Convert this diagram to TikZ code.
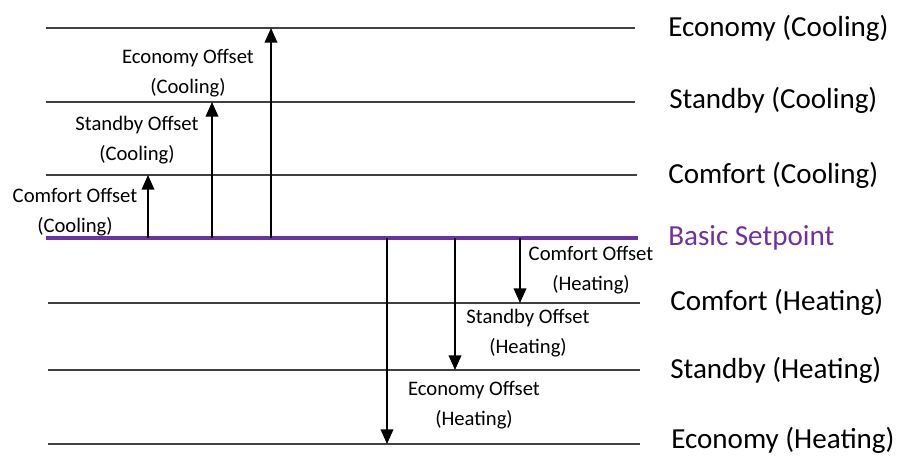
\documentclass[tikz,border=0pt]{standalone}
\usepackage{fontspec}
\setmainfont{Carlito}
\usetikzlibrary{arrows.meta}
\definecolor{setpt}{rgb}{0.44,0.19,0.63}
\tikzset{
  level/.style={draw=black!75,line width=1.1pt},
  offset/.style={draw=black,line width=1.2pt,-{Triangle[width=9.5pt,length=11pt]}},
  small/.style={inner sep=0.75pt,align=center,font=\fontsize{15.5}{23}\selectfont},
  big/.style={anchor=west,inner sep=0.75pt,font=\fontsize{21.8}{26}\selectfont}
}
\begin{document}
\begin{tikzpicture}[x=0.75pt,y=0.75pt,yscale=-1,xscale=1]
\useasboundingbox (0,0) rectangle (900,455);

% line ends
\coordinate (ecL) at (46,28);   \coordinate (ecR) at (635,28);
\coordinate (sbL) at (46,102);  \coordinate (sbR) at (635,102);
\coordinate (cfL) at (46,175);  \coordinate (cfR) at (637,175);
\coordinate (bsL) at (46,238);  \coordinate (bsR) at (638,238);
\coordinate (chL) at (48,303);  \coordinate (chR) at (640,303);
\coordinate (shL) at (48,370);  \coordinate (shR) at (640,370);
\coordinate (ehL) at (48,444);  \coordinate (ehR) at (640,444);

%Straight Lines
\draw [level] (ecL) -- (ecR);
\draw [level] (sbL) -- (sbR);
\draw [level] (cfL) -- (cfR);
\draw [level] (chL) -- (chR);
\draw [level] (shL) -- (shR);
\draw [level] (ehL) -- (ehR);
\draw [draw=setpt,line width=2.4pt] (bsL) -- (bsR);

% arrow ends
\coordinate (a1) at (148,238);  \coordinate (b1) at (148,175);
\coordinate (a2) at (212,238);  \coordinate (b2) at (212,102);
\coordinate (a3) at (271,238);  \coordinate (b3) at (271,28);
\coordinate (a4) at (520,238);  \coordinate (b4) at (520,303);
\coordinate (a5) at (455,238);  \coordinate (b5) at (455,370);
\coordinate (a6) at (387,238);  \coordinate (b6) at (387,444);

%Arrows
\draw [offset] (a1) -- (b1);
\draw [offset] (a2) -- (b2);
\draw [offset] (a3) -- (b3);
\draw [offset] (a4) -- (b4);
\draw [offset] (a5) -- (b5);
\draw [offset] (a6) -- (b6);

% Text Node
\node [small] (ecoff) at (188,73) {Economy Offset\\(Cooling)};
\node [small] (sboff) at (137,140) {Standby Offset\\(Cooling)};
\node [small] (cfoff) at (75,212) {Comfort Offset\\(Cooling)};
\node [small] (choff) at (591,270) {Comfort Offset\\(Heating)};
\node [small] (shoff) at (528,333) {Standby Offset\\(Heating)};
\node [small] (ehoff) at (474,405) {Economy Offset\\(Heating)};

% Text Node
\node [big] (ecoC) at (667,28) {Economy (Cooling)};
\node [big] (sbyC) at (668,100) {Standby (Cooling)};
\node [big] (cmfC) at (667,175) {Comfort (Cooling)};
\node [big,text=setpt] (base) at (667,238) {Basic Setpoint};
\node [big] (cmfH) at (669,302) {Comfort (Heating)};
\node [big] (sbyH) at (669,370) {Standby (Heating)};
\node [big] (ecoH) at (670,440) {Economy (Heating)};

\end{tikzpicture}
\end{document}
